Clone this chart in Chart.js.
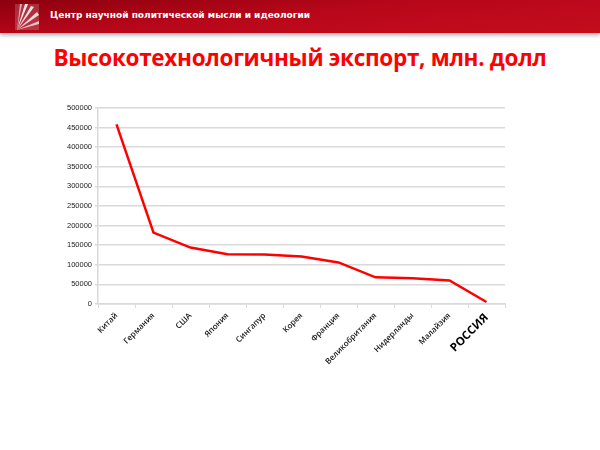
<!DOCTYPE html>
<html lang="ru">
<head>
<meta charset="utf-8">
<title>Высокотехнологичный экспорт</title>
<script src="https://cdn.jsdelivr.net/npm/chart.js@4"></script>
<style>
  html, body { margin: 0; padding: 0; background: #fff; }
  #page { position: relative; width: 600px; height: 450px; overflow: hidden; font-family: "Open Sans", "Liberation Sans", sans-serif; }
  #header {
    position: absolute; left: 0; top: 0; width: 600px; height: 33px;
    background: linear-gradient(175deg, #8c000e 0%, #b8071a 45%, #c40d1d 100%);
    box-shadow: 0 2px 4px rgba(0, 0, 0, 0.35);
  }
  #header svg { position: absolute; left: 15px; top: 4px; }
  #header .org {
    position: absolute; left: 50px; top: 10px; color: #fff;
    font: bold 9px "DejaVu Sans", sans-serif;
  }
  #title {
    position: absolute; left: 0; top: 42px; width: 600px; text-align: center;
    color: #ff0000; font: bold 22.5px "Open Sans", sans-serif; letter-spacing: -0.3px;
  }
  #chart-box { position: absolute; left: 0; top: 0; width: 600px; height: 450px; }
</style>
</head>
<body>
<div id="page">
  <div id="header">
    <svg width="24" height="26" viewBox="0 0 24 26">
      <rect x="0" y="0" width="24" height="26" fill="rgba(255,255,255,0.18)"/>
      <path d="M2 26 L10 0 L13 0 Z" fill="#fff" opacity="0.9"/>
      <path d="M2 26 L16 2 L19 3 Z" fill="#fff" opacity="0.85"/>
      <path d="M2 26 L22 8 L24 11 Z" fill="#fff" opacity="0.8"/>
      <path d="M2 26 L24 17 L24 20 Z" fill="#fff" opacity="0.7"/>
      <path d="M2 26 L5 0 L7 0 Z" fill="#fff" opacity="0.6"/>
    </svg>
    <div class="org">Центр научной политической мысли и идеологии</div>
  </div>
  <div id="title">Высокотехнологичный экспорт, млн. долл</div>
  <div id="chart-box"><canvas id="export-chart"></canvas></div>
</div>
<script>
// Chart data
const countries = [
  "Китай", "Германия", "США", "Япония", "Сингапур", "Корея",
  "Франция", "Великобритания", "Нидерланды", "Малайзия", "РОССИЯ",
];
const exportValues = [
  458000, 182000, 144000, 127000, 126000, 121000,
  106000, 68000, 66000, 60000, 5000,
];
const yTicks = [0, 50000, 100000, 150000, 200000, 250000, 300000, 350000, 400000, 450000, 500000];

const gridColor = "#d9d9d9";

function initializeExportChart() {
  const ctx = document.getElementById("export-chart").getContext("2d");
  new Chart(ctx, {
    type: "line",
    data: {
      labels: countries,
      datasets: [
        {
          label: "Высокотехнологичный экспорт",
          data: exportValues,
          borderColor: "#ff0000",
          borderWidth: 2.5,
          pointRadius: 0,
          tension: 0,
          fill: false,
        },
      ],
    },
    options: {
      responsive: true,
      maintainAspectRatio: false,
      animation: false,
      layout: {
        padding: { left: 48, right: 95, top: 108, bottom: 52 },
      },
      plugins: {
        legend: { display: false },
        tooltip: { enabled: false },
      },
      scales: {
        x: {
          offset: true,
          grid: {
            offset: true,
            drawOnChartArea: false,
            drawTicks: true,
            tickLength: 4,
            color: gridColor,
            lineWidth: 1,
          },
          border: { color: gridColor, width: 1.5 },
          ticks: {
            minRotation: 45,
            maxRotation: 45,
            autoSkip: false,
            padding: 3,
            color: (c) => (c.index === countries.length - 1 ? "#000" : "#1a1a1a"),
            font: (c) =>
              c.index === countries.length - 1
                ? { family: "'Open Sans', sans-serif", size: 11.5, weight: "bold" }
                : { family: "'Open Sans', sans-serif", size: 8, weight: "600" },
          },
          afterFit: (scale) => {
            scale.height = 94;
          },
        },
        y: {
          min: 0,
          max: 500000,
          afterBuildTicks: (scale) => {
            scale.ticks = yTicks.map((v) => ({ value: v }));
          },
          grid: {
            color: gridColor,
            lineWidth: 1.5,
            drawTicks: true,
            tickLength: 3,
          },
          border: { color: gridColor, width: 1.5 },
          ticks: {
            color: "#222",
            padding: 3,
            font: { family: "'Liberation Sans', sans-serif", size: 7.5 },
            callback: (value) => String(value),
          },
          afterFit: (scale) => {
            scale.width = 50;
          },
        },
      },
    },
  });
}

initializeExportChart();
</script>
</body>
</html>
